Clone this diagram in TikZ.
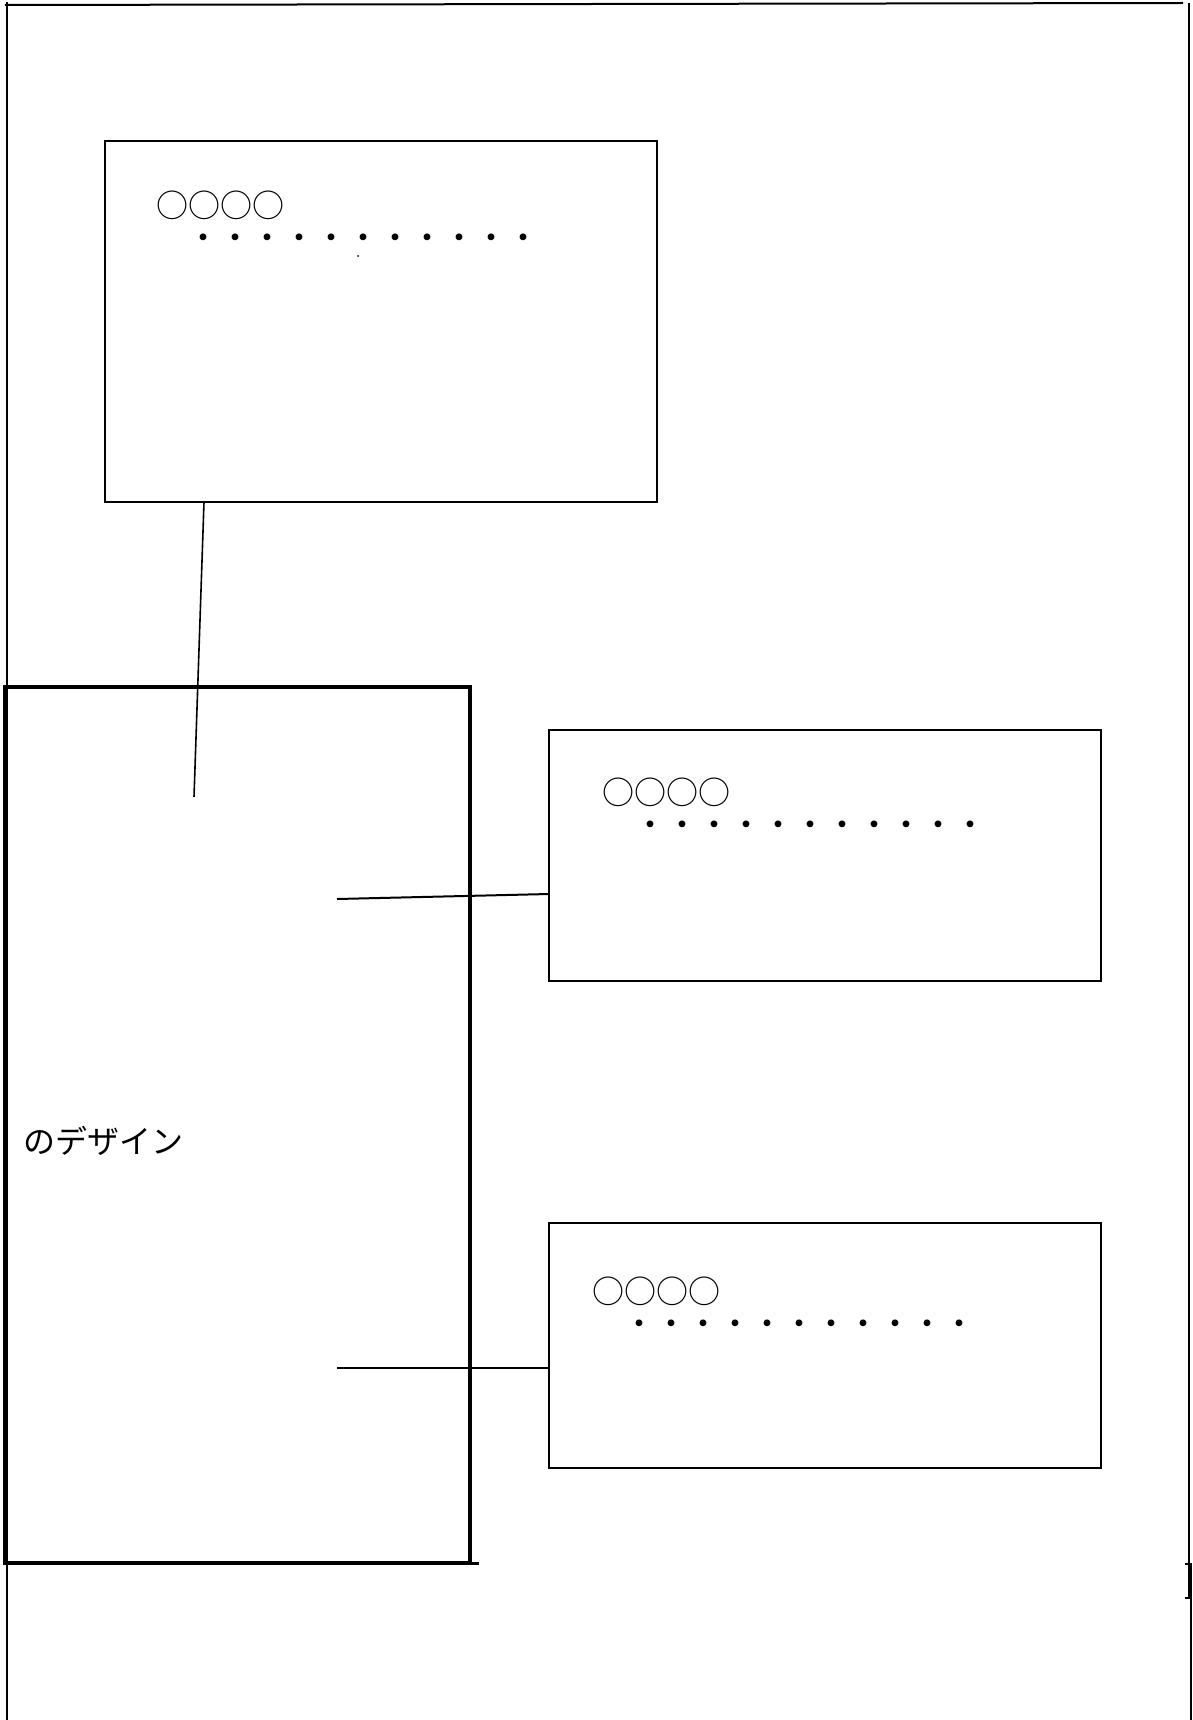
\documentclass[tikz,border=0pt]{standalone}
\usepackage{fontspec}
\newfontfamily\jpfont{Noto Sans CJK JP}
\usetikzlibrary{calc}
\begin{document}
\begin{tikzpicture}[x=1pt,y=-1pt,
  panel/.style={draw=black,line width=2pt,inner sep=0pt,outer sep=0pt},
  bigpanel/.style={draw=black,line width=4.5pt,inner sep=0pt,outer sep=0pt},
  conn/.style={draw=black,line width=2pt},
  frameline/.style={draw=black,line width=2pt},
  jp/.style={font=\jpfont\fontsize{32}{38}\selectfont,inner sep=0pt,anchor=base west}]
\useasboundingbox (0,0) rectangle (1193,1720);
\fill[white] (0,0) rectangle (1193,1720);

% outer frame
\draw[frameline] (5,5) -- (1183,3);
\draw[frameline] (7,2) -- (7,1720);
\draw[frameline] (1189,3) -- (1189,1598) -- (1185,1598);
\draw[frameline] (1185,1564) -- (1191,1564) -- (1191,1720);

% boxes
\node[panel,minimum width=552pt,minimum height=361pt] (b1) at (381,321.5) {};
\node[panel,minimum width=552pt,minimum height=251pt] (b2) at (825,855.5) {};
\node[panel,minimum width=552pt,minimum height=245pt] (b3) at (825,1345.5) {};
\node[bigpanel,minimum width=465pt,minimum height=876pt] (big) at (237.5,1125) {};
\draw[line width=3pt] (big.south east) -- ++(9,0);

% texts
\node[jp] (t1a) at (156,218) {○○○○};
\node[jp] (t1b) at (187.5,250) {・・・・・・・・・・・};
\fill (358,256) circle (1pt);
\node[jp] (t2a) at (602,804) {○○○○};
\node[jp] (t2b) at (634,836) {・・・・・・・・・・・};
\node[jp] (t3a) at (592,1303) {○○○○};
\node[jp] (t3b) at (623,1335) {・・・・・・・・・・・};
\node[jp] (t4) at (23,1153) {のデザイン};

% connectors
\coordinate (e1) at (194,797);
\draw[conn,line width=1.6pt] ($(b1.south west)+(99,0)$) -- (e1);
\coordinate (e2) at (337,899);
\draw[conn] (e2) -- ($(b2.north west)+(0,164)$);
\coordinate (e3) at (337,1368);
\draw[conn,line width=2.5pt] (e3) -- ($(b3.north west)+(0,145)$);
\end{tikzpicture}
\end{document}
